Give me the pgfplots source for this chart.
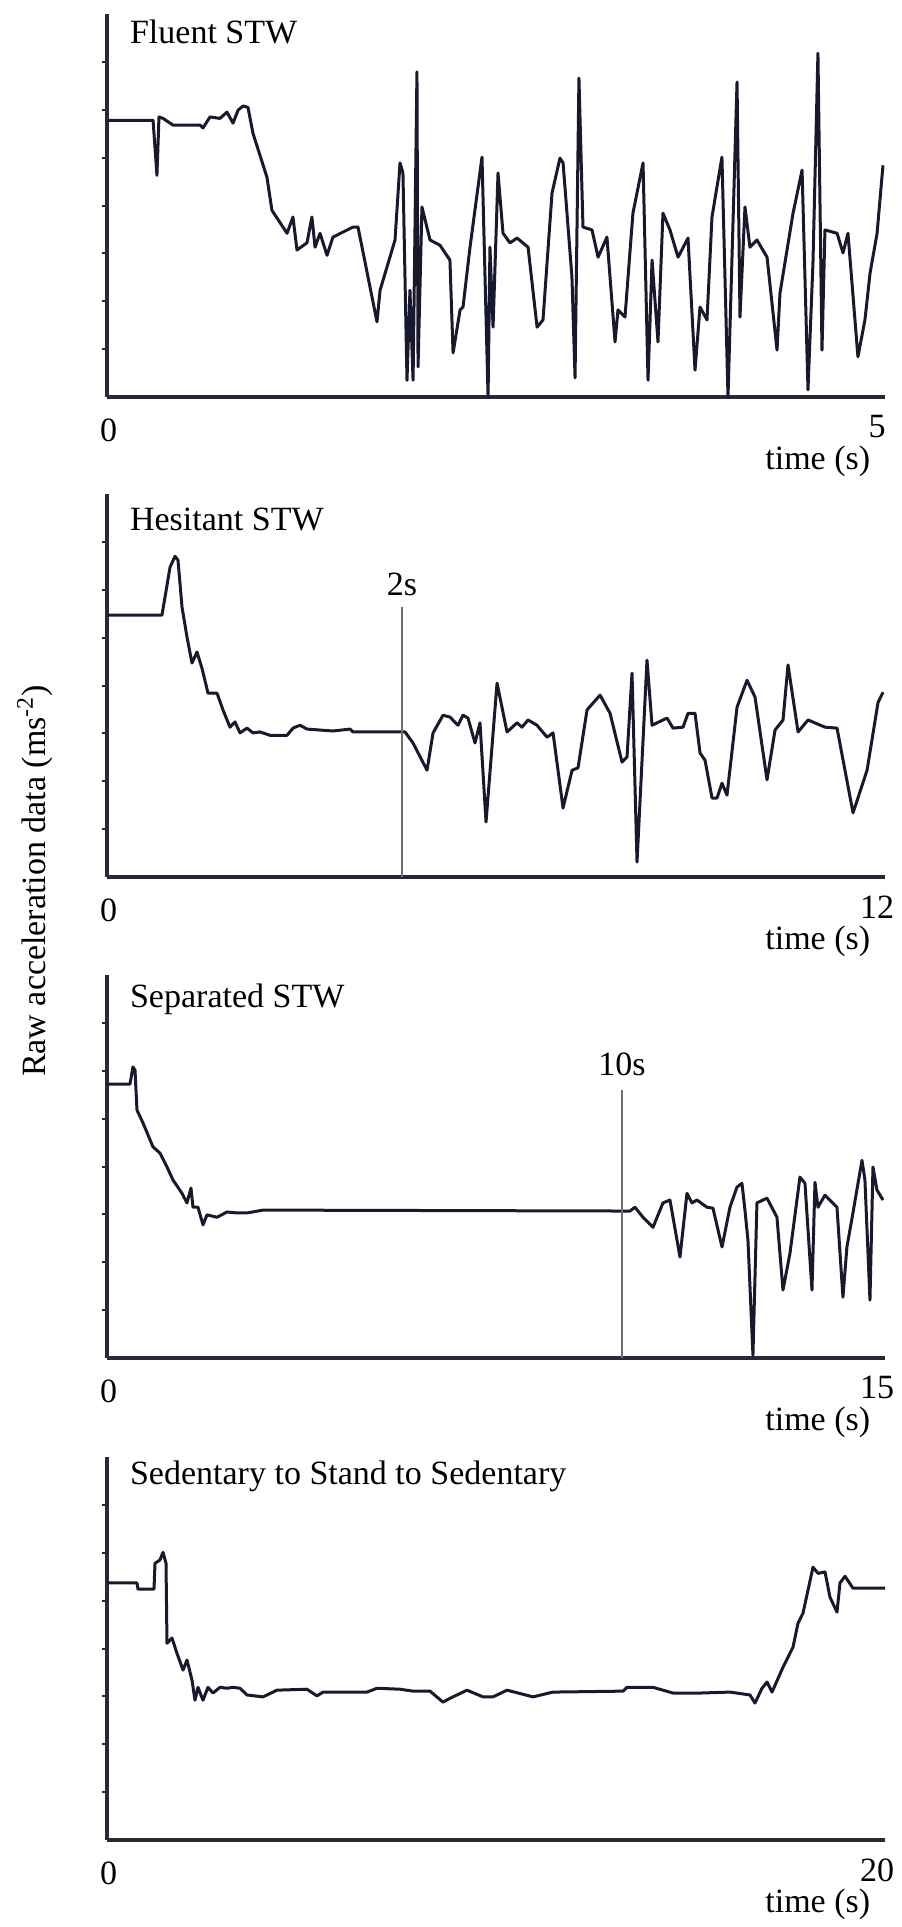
\documentclass[border=0pt]{standalone}
\usepackage{pgfplots}
\pgfplotsset{compat=1.18}
\usepackage{fontspec}
\setmainfont{Liberation Serif}
\definecolor{datcol}{RGB}{25,25,45}
\definecolor{axcol}{RGB}{40,40,55}
\definecolor{mkcol}{RGB}{110,110,110}
\pgfplotsset{
  panel/.style={
    scale only axis, width=389pt, height=191.5pt,
    anchor=south west,
    xmin=0, ymin=0, ymax=8,
    axis lines*=left,
    axis line style={line width=1.8pt, color=axcol},
    xtick=\empty,
    ytick={1,...,7}, yticklabels={},
    tick align=outside, major tick length=2.5pt,
    tick style={line width=1pt, color=axcol},
    clip=false,
    font=\fontsize{17}{20}\selectfont,
  },
  dat/.style={line width=1.5pt, color=datcol, line join=round, mark=none},
}
\begin{document}
\begin{tikzpicture}[font=\fontsize{17}{20}\selectfont]
\useasboundingbox (0,0) rectangle (450.5pt,-963.5pt);
\node[rotate=90] at (17.5pt,-440.5pt) {Raw acceleration data (ms\textsuperscript{-2})};

% Panel 1
\begin{axis}[panel, at={(53.5pt,-198.5pt)}, xmax=5]
\addplot[dat] coordinates {(0,5.78)(0.296,5.78)(0.321,4.63)(0.334,5.85)(0.360,5.82)(0.424,5.68)(0.514,5.68)(0.598,5.68)(0.617,5.62)(0.662,5.85)(0.726,5.82)(0.771,5.95)(0.810,5.72)(0.842,5.99)(0.874,6.08)(0.906,6.05)(0.938,5.51)(1.028,4.59)(1.060,3.90)(1.157,3.42)(1.195,3.76)(1.221,3.07)(1.285,3.22)(1.317,3.76)(1.337,3.13)(1.369,3.42)(1.414,2.96)(1.452,3.34)(1.581,3.55)(1.613,3.55)(1.735,1.57)(1.755,2.23)(1.851,3.28)(1.883,4.89)(1.902,4.68)(1.928,0.35)(1.947,2.23)(1.967,0.35)(1.992,6.79)(1.999,0.63)(2.024,3.97)(2.076,3.28)(2.140,3.17)(2.204,2.86)(2.224,0.92)(2.269,1.82)(2.288,1.88)(2.333,3.13)(2.410,5.01)(2.449,0)(2.461,3.13)(2.481,1.46)(2.513,4.68)(2.545,3.42)(2.590,3.22)(2.635,3.32)(2.706,3.13)(2.764,1.46)(2.802,1.61)(2.860,4.26)(2.911,4.99)(2.931,4.89)(2.988,2.51)(3.008,0.40)(3.033,6.66)(3.059,3.55)(3.117,3.49)(3.156,2.92)(3.213,3.34)(3.265,1.15)(3.284,1.82)(3.329,1.67)(3.380,3.84)(3.445,4.89)(3.477,0.35)(3.503,2.86)(3.541,1.15)(3.573,3.84)(3.618,3.49)(3.670,2.92)(3.734,3.32)(3.779,0.56)(3.811,1.88)(3.856,1.61)(3.888,3.76)(3.952,5.01)(3.991,0)(4.049,6.58)(4.068,1.67)(4.100,3.97)(4.132,3.13)(4.177,3.28)(4.242,2.92)(4.306,0.98)(4.325,2.17)(4.409,3.84)(4.467,4.74)(4.505,0.15)(4.537,2.80)(4.569,7.18)(4.595,0.98)(4.614,3.49)(4.692,3.42)(4.730,3.01)(4.762,3.42)(4.826,0.84)(4.871,1.61)(4.904,2.59)(4.949,3.42)(4.987,4.84)};
\node[anchor=base west] at (rel axis cs:0.0206,0.924) {Fluent STW};
\node at (rel axis cs:0.002,-0.086) {0};
\node at (rel axis cs:0.99,-0.078) {5};
\node[anchor=east] at (rel axis cs:0.99,-0.167) {time (s)};
\end{axis}

% Panel 2
\begin{axis}[panel, at={(53.5pt,-438.5pt)}, xmax=12]
\addplot[dat] coordinates {(0,5.47)(0.848,5.47)(0.972,6.47)(1.049,6.70)(1.095,6.62)(1.157,5.64)(1.234,5.01)(1.311,4.47)(1.388,4.70)(1.465,4.36)(1.558,3.84)(1.697,3.84)(1.789,3.49)(1.897,3.13)(1.974,3.24)(2.052,3.01)(2.159,3.11)(2.252,3.01)(2.360,3.03)(2.514,2.96)(2.777,2.96)(2.869,3.11)(2.977,3.17)(3.085,3.09)(3.285,3.07)(3.486,3.05)(3.748,3.09)(3.794,3.03)(4.597,3.03)(4.720,2.80)(4.936,2.23)(5.029,3.01)(5.183,3.38)(5.291,3.34)(5.414,3.17)(5.491,3.38)(5.568,3.32)(5.676,2.80)(5.753,3.22)(5.846,1.15)(6.016,4.05)(6.170,3.03)(6.324,3.22)(6.401,3.13)(6.494,3.28)(6.633,3.17)(6.787,2.92)(6.880,3.01)(7.034,1.44)(7.173,2.23)(7.265,2.28)(7.404,3.49)(7.605,3.80)(7.759,3.42)(7.944,2.40)(8.021,2.51)(8.098,4.26)(8.175,0.31)(8.329,4.53)(8.407,3.17)(8.638,3.32)(8.731,3.11)(8.885,3.13)(8.962,3.42)(9.070,3.42)(9.147,2.59)(9.224,2.44)(9.332,1.65)(9.409,1.65)(9.486,1.96)(9.563,1.71)(9.718,3.55)(9.872,4.11)(9.995,3.76)(10.180,2.03)(10.304,3.07)(10.427,3.28)(10.504,4.43)(10.659,3.03)(10.813,3.28)(11.075,3.13)(11.260,3.11)(11.507,1.34)(11.723,2.23)(11.893,3.65)(11.970,3.86)};
\draw[mkcol, line width=0.8pt] (axis cs:4.55,0) -- (axis cs:4.55,5.64);
\node[anchor=base] at (axis cs:4.55,5.89) {2s};
\node[anchor=base west] at (rel axis cs:0.0206,0.906) {Hesitant STW};
\node at (rel axis cs:0.002,-0.086) {0};
\node at (rel axis cs:0.99,-0.078) {12};
\node[anchor=east] at (rel axis cs:0.99,-0.167) {time (s)};
\end{axis}

% Panel 3
\begin{axis}[panel, at={(53.5pt,-679pt)}, xmax=15]
\addplot[dat] coordinates {(0,5.72)(0.443,5.72)(0.501,6.08)(0.540,6.01)(0.578,5.18)(0.694,4.91)(0.887,4.41)(1.022,4.28)(1.157,3.99)(1.272,3.72)(1.446,3.44)(1.542,3.24)(1.619,3.55)(1.658,3.15)(1.754,3.15)(1.851,2.78)(1.928,2.99)(2.121,2.94)(2.313,3.05)(2.506,3.03)(2.699,3.03)(3.007,3.09)(10.083,3.07)(10.179,3.15)(10.334,2.94)(10.527,2.73)(10.719,3.24)(10.854,3.30)(11.047,2.11)(11.182,3.44)(11.278,3.24)(11.375,3.30)(11.567,3.15)(11.683,3.13)(11.857,2.32)(12.011,3.15)(12.146,3.57)(12.242,3.65)(12.300,3.09)(12.358,2.46)(12.454,0.06)(12.531,3.24)(12.724,3.34)(12.917,2.94)(13.033,1.42)(13.168,2.19)(13.360,3.78)(13.457,3.65)(13.592,1.42)(13.650,3.67)(13.707,3.15)(13.842,3.40)(14.074,3.15)(14.189,1.27)(14.266,2.32)(14.382,3.03)(14.556,4.13)(14.613,3.72)(14.710,1.21)(14.768,3.99)(14.845,3.51)(14.961,3.30)};
\draw[mkcol, line width=0.8pt] (axis cs:9.93,0) -- (axis cs:9.93,5.60);
\node[anchor=base] at (axis cs:9.93,5.91) {10s};
\node[anchor=base west] at (rel axis cs:0.0206,0.914) {Separated STW};
\node at (rel axis cs:0.002,-0.086) {0};
\node at (rel axis cs:0.99,-0.078) {15};
\node[anchor=east] at (rel axis cs:0.99,-0.167) {time (s)};
\end{axis}

% Panel 4
\begin{axis}[panel, at={(53.5pt,-920pt)}, xmax=20]
\addplot[dat] coordinates {(0,5.37)(0.771,5.37)(0.797,5.24)(1.208,5.24)(1.234,5.78)(1.362,5.85)(1.440,6.01)(1.517,5.78)(1.542,4.11)(1.671,4.22)(1.799,3.90)(1.954,3.55)(2.057,3.76)(2.185,3.34)(2.262,2.92)(2.339,3.19)(2.468,2.92)(2.596,3.19)(2.725,3.07)(2.905,3.19)(3.085,3.17)(3.239,3.19)(3.419,3.17)(3.599,3.03)(4.010,2.99)(4.370,3.13)(5.141,3.15)(5.398,3.01)(5.553,3.09)(6.684,3.09)(6.941,3.17)(7.532,3.15)(7.866,3.11)(8.303,3.11)(8.638,2.88)(8.817,2.96)(9.254,3.13)(9.666,2.99)(9.923,2.99)(10.283,3.13)(10.951,2.99)(11.465,3.09)(13.265,3.11)(13.368,3.19)(14.036,3.19)(14.550,3.07)(15.244,3.07)(16.015,3.09)(16.530,3.03)(16.658,2.86)(16.838,3.17)(16.967,3.30)(17.095,3.09)(17.378,3.61)(17.635,4.03)(17.764,4.53)(17.892,4.74)(18.021,5.22)(18.149,5.70)(18.278,5.57)(18.458,5.60)(18.586,5.07)(18.766,4.76)(18.843,5.37)(18.972,5.51)(19.177,5.26)(20,5.26)};
\node[anchor=base west] at (rel axis cs:0.0206,0.927) {Sedentary to Stand to Sedentary};
\node at (rel axis cs:0.002,-0.086) {0};
\node at (rel axis cs:0.99,-0.078) {20};
\node[anchor=east] at (rel axis cs:0.99,-0.167) {time (s)};
\end{axis}
\end{tikzpicture}
\end{document}
